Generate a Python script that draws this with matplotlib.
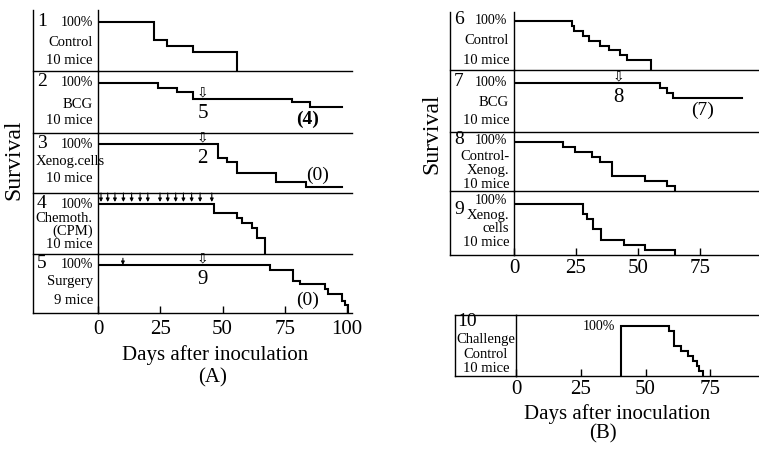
import matplotlib
matplotlib.use('Agg')
import matplotlib.pyplot as plt
from matplotlib.lines import Line2D

plt.rcParams['font.family'] = ['Liberation Serif', 'DejaVu Sans']

W, H = 759, 453

# survival curves (day, percent surviving)
days1 = [0, 22.5, 27.6, 38, 56]
surv1 = [100, 63, 51, 39, 0]
days2 = [0, 24, 31.7, 38, 78, 85, 98]
surv2 = [100, 90, 82, 68, 62, 52, 52]
days3 = [0, 48, 52, 56, 71.5, 83.5, 98]
surv3 = [100, 71, 63, 41, 22, 12, 12]
days4 = [0, 46.5, 56, 58, 62, 64, 67]
surv4 = [100, 82, 72, 62, 52, 32, 0]
days5 = [0, 69, 78.5, 81, 91, 92.5, 98, 99, 100.5]
surv5 = [100, 89, 67, 60, 50, 40, 25, 17, 0]
days6 = [0, 23.3, 24.2, 27.7, 30.2, 34.7, 38.3, 42.7, 45.4, 55.2]
surv6 = [100, 90, 80, 70, 60, 50, 40, 30, 20, 0]
days7 = [0, 58.9, 61.6, 64.2, 92]
surv7 = [100, 90, 80, 70, 70]
days8 = [0, 19.9, 24.6, 31.3, 34.7, 39.4, 52.8, 61.6, 65]
surv8 = [100, 90, 80, 70, 60, 30, 20, 10, 0]
days9 = [0, 27.7, 29.6, 32, 35, 44.4, 52.8, 65]
surv9 = [100, 80, 70, 50, 30, 20, 10, 0]
days10 = [40.4, 40.4, 59.2, 61, 63.6, 66.5, 68.2, 70, 70.8, 72]
surv10 = [0, 100, 90, 60, 50, 40, 30, 20, 10, 0]

chemo_days = [1.2, 3.9, 6.8, 10.2, 13.5, 16.9, 20, 24.9, 28, 31.2, 34.3, 37.6, 41, 45.7]
surgery_day = 10
treat_day_A = 42
treat_day_B = 42.3

fig = plt.figure(figsize=(W / 100, H / 100), dpi=100)
fig.patch.set_facecolor('white')


def fline(x0, y0, x1, y1, lw=1.0):
    fig.add_artist(Line2D([x0 / W, x1 / W], [1 - y0 / H, 1 - y1 / H], color='black', lw=lw))


def ftext(x, y, s, size=10, ha='right', va='center', **kw):
    fig.text(x / W, 1 - y / H, s, fontsize=size, ha=ha, va=va, **kw)


def panel(l, t, r, b, full, xmax, days, surv):
    ax = fig.add_axes([l / W, 1 - b / H, (r - l) / W, (b - t) / H])
    ax.set_xlim(0, xmax)
    ax.set_ylim(0, 100 * (b - t) / (b - full))
    ax.step(days, surv, where='post', color='black', lw=1.5, solid_joinstyle='miter')
    for s in ['top', 'right']:
        ax.spines[s].set_visible(False)
    for s in ['left', 'bottom']:
        ax.spines[s].set_linewidth(1.0)
    ax.set_xticks([])
    ax.set_yticks([])
    ax.patch.set_alpha(0)
    return ax


def open_arrow(ax, x, y):
    ax.text(x, y, '\u21e9', fontsize=10, ha='center', va='bottom', family='DejaVu Sans')


def small_arrow(ax, x, y, dy):
    ax.annotate('', xy=(x, y), xytext=(x, y + dy),
                arrowprops=dict(arrowstyle='-|>', lw=0.8, color='black', mutation_scale=5,
                                shrinkA=0, shrinkB=0))


# ---------------- group A ----------------
xmaxA = 102
a1 = panel(98, 10, 352, 71, 22, xmaxA, days1, surv1)
a2 = panel(98, 71, 352, 133, 83, xmaxA, days2, surv2)
a3 = panel(98, 133, 352, 193, 144, xmaxA, days3, surv3)
a4 = panel(98, 193, 352, 254, 204, xmaxA, days4, surv4)
a5 = panel(98, 254, 352, 313, 265, xmaxA, days5, surv5)

open_arrow(a2, treat_day_A, 67)
a2.text(treat_day_A, 58, '5', fontsize=15, ha='center', va='top')
a2.text(84, 28, '(4)', fontsize=14, ha='center', va='center', weight='bold')
open_arrow(a3, treat_day_A, 99)
a3.text(treat_day_A, 90, '2', fontsize=15, ha='center', va='top')
a3.text(88, 36, '(0)', fontsize=14, ha='center', va='center')
for d in chemo_days:
    small_arrow(a4, d, 104, 18)
small_arrow(a5, surgery_day, 100, 14)
open_arrow(a5, treat_day_A, 99)
a5.text(treat_day_A, 90, '9', fontsize=15, ha='center', va='top')
a5.text(84, 26, '(0)', fontsize=14, ha='center', va='center')

a5.set_xticks([0, 25, 50, 75, 100])
a5.set_xticklabels(['0', '25', '50', '75', '100'], fontsize=15)
a5.tick_params(axis='x', direction='in', length=5, width=1, pad=5)

fline(33, 10, 33, 313)
fline(33, 313, 98, 313)
for y in [71, 133, 193, 254]:
    fline(33, y, 98, y)

ftext(14, 160, 'Survival', size=17, ha='center', rotation=90)
ftext(215, 355, 'Days after inoculation', size=15, ha='center')
ftext(213, 378, '(A)', size=15, ha='center')

labelsA = [
    (22, '1', [('Control', 42), ('10 mice', 60)]),
    (83, '2', [('BCG', 104), ('10 mice', 121)]),
    (144, '3', [('10 mice', 179)]),
    (204, '4', [('Chemoth.', 218), ('(CPM)', 231), ('10 mice', 245)]),
    (265, '5', [('Surgery', 282), ('9 mice', 300)]),
]
for y, num, lines in labelsA:
    ftext(37, y - 1, num, size=14, ha='left')
    ftext(93, y, '100%', size=10)
    for s, yy in lines:
        ftext(93, yy, s, size=10.5)
ftext(36, 162, 'Xenog.cells', size=10.5, ha='left')

# ---------------- group B (upper) ----------------
xmaxB = 98.8
b6 = panel(514, 12, 759, 70, 21, xmaxB, days6, surv6)
b7 = panel(514, 70, 759, 132, 83, xmaxB, days7, surv7)
b8 = panel(514, 132, 759, 191, 142, xmaxB, days8, surv8)
b9 = panel(514, 191, 759, 255, 204, xmaxB, days9, surv9)

open_arrow(b7, treat_day_B, 99)
b7.text(treat_day_B, 90, '8', fontsize=15, ha='center', va='top')
b7.text(76, 45, '(7)', fontsize=14, ha='center', va='center')

b9.set_xticks([0, 25, 50, 75])
b9.set_xticklabels(['0', '25', '50', '75'], fontsize=15)
b9.tick_params(axis='x', direction='in', length=5, width=1, pad=3)

fline(450, 12, 450, 255)
fline(450, 255, 514, 255)
for y in [70, 132, 191]:
    fline(450, y, 514, y)

ftext(432, 134, 'Survival', size=17, ha='center', rotation=90)

labelsB = [
    (21, '6', 21, [('Control', 40), ('10 mice', 60)]),
    (83, '7', 83, [('BCG', 102), ('10 mice', 120)]),
    (141, '8', 141, [('Control-', 157), ('Xenog.', 171), ('10 mice', 184)]),
    (211, '9', 200, [('Xenog.', 215), ('cells', 229), ('10 mice', 243)]),
]
for y, num, y100, lines in labelsB:
    ftext(454, y - 1, num, size=14, ha='left')
    ftext(507, y100, '100%', size=10)
    for s, yy in lines:
        ftext(509, yy, s, size=10.5)

# ---------------- group B (challenge) ----------------
b10 = panel(516, 315, 759, 376, 326, 93.8, days10, surv10)
b10.spines['top'].set_visible(True)
b10.spines['top'].set_linewidth(1.0)
b10.set_xticks([0, 25, 50, 75])
b10.set_xticklabels(['0', '25', '50', '75'], fontsize=15)
b10.tick_params(axis='x', direction='in', length=5, width=1, pad=3)
b10.text(days10[1] - 2, 100, '100%', fontsize=10, ha='right', va='center')

fline(455, 315, 455, 376)
fline(455, 315, 516, 315)
fline(455, 376, 516, 376)
ftext(457, 322, '10', size=14, ha='left')
ftext(486, 340, 'Challenge', size=10.5, ha='center')
ftext(486, 354, 'Control', size=10.5, ha='center')
ftext(486, 368, '10 mice', size=10.5, ha='center')

ftext(617, 414, 'Days after inoculation', size=15, ha='center')
ftext(603, 434, '(B)', size=15, ha='center')

fig.savefig('out.png', dpi=100)
